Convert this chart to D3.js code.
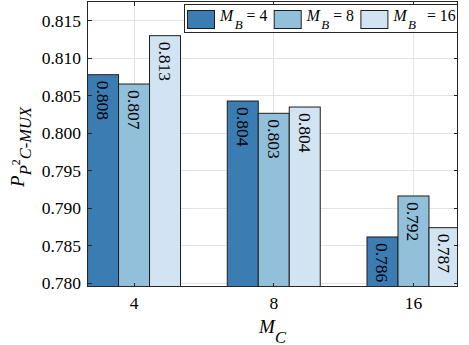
<!DOCTYPE html>
<html>
<head>
<meta charset="utf-8">
<script src="https://cdn.jsdelivr.net/npm/d3@7"></script>
<style>
  html, body { margin: 0; padding: 0; background: #fff; }
  svg { display: block; }
</style>
</head>
<body>
<svg id="chart" width="469" height="345" font-family="'Liberation Serif', 'Times New Roman', Times, 'DejaVu Serif', serif"></svg>
<script>
// Group positions along the M_C axis
const categories = ["4", "8", "16"];
// One series per M_B value
const seriesNames = ["4", "8", "16"];
const seriesValues = [
  [0.80783, 0.80432, 0.78618],  // M_B = 4
  [0.80659, 0.80268, 0.79165],  // M_B = 8
  [0.81304, 0.80352, 0.78742]   // M_B = 16
];
const seriesColors = ["#3b7cb3", "#92bfda", "#d2e3f1"];
const yTicks = [0.780, 0.785, 0.790, 0.795, 0.800, 0.805, 0.810, 0.815];

const W = 469, H = 345;
const plot = { left: 87.5, right: 457.5, top: 1.5, bottom: 286.5 };
const axisColor = "#262626";
const gridColor = "#e3e3e3";
const fmt = d3.format(".3f");

const svg = d3.select("#chart");
svg.append("rect").attr("width", W).attr("height", H).attr("fill", "#fff");

const x = d3.scaleLinear().domain([0.667, 3.315]).range([plot.left, plot.right]);
const y = d3.scaleLinear().domain([0.77957, 0.8176]).range([plot.bottom, plot.top]);
const barW = 0.2218; // in group-axis units

svg.append("defs").append("clipPath").attr("id", "clip")
  .append("rect")
  .attr("x", plot.left).attr("y", plot.top)
  .attr("width", plot.right - plot.left).attr("height", plot.bottom - plot.top);

// Grid
const grid = svg.append("g").attr("shape-rendering", "crispEdges");
grid.selectAll("line.h").data(yTicks).join("line")
  .attr("class", "h")
  .attr("x1", plot.left).attr("x2", plot.right)
  .attr("y1", d => y(d)).attr("y2", d => y(d))
  .attr("stroke", gridColor);
grid.selectAll("line.v").data(categories).join("line")
  .attr("class", "v")
  .attr("x1", (d, i) => x(i + 1)).attr("x2", (d, i) => x(i + 1))
  .attr("y1", plot.top).attr("y2", plot.bottom)
  .attr("stroke", gridColor);

// Bars
const bars = svg.append("g").attr("clip-path", "url(#clip)");
const flat = [];
seriesValues.forEach((vals, s) => vals.forEach((v, c) => flat.push({ s, c, v })));
bars.selectAll("rect").data(flat).join("rect")
  .attr("x", d => x(d.c + 1 + (d.s - 1.5) * barW))
  .attr("width", d => x(barW) - x(0))
  .attr("y", d => y(d.v))
  .attr("height", d => plot.bottom + 2 - y(d.v))
  .attr("fill", d => seriesColors[d.s])
  .attr("stroke", "#1e1e1e")
  .attr("stroke-width", 1);

// Value labels, reading downward from the top of each bar
bars.selectAll("text").data(flat).join("text")
  .attr("transform", d => `translate(${x(d.c + 1 + (d.s - 1) * barW)},${y(d.v) + 6}) rotate(90)`)
  .attr("text-anchor", "start")
  .attr("dominant-baseline", "central")
  .attr("font-size", "17.5px")
  .text(d => fmt(d.v));

// Axes box and inward ticks
const axes = svg.append("g").attr("shape-rendering", "crispEdges");
axes.append("rect")
  .attr("x", plot.left).attr("y", plot.top)
  .attr("width", plot.right - plot.left).attr("height", plot.bottom - plot.top)
  .attr("fill", "none").attr("stroke", axisColor);
const tl = 4;
yTicks.forEach(t => {
  axes.append("line").attr("x1", plot.left).attr("x2", plot.left + tl)
    .attr("y1", y(t)).attr("y2", y(t)).attr("stroke", axisColor);
  axes.append("line").attr("x1", plot.right - tl).attr("x2", plot.right)
    .attr("y1", y(t)).attr("y2", y(t)).attr("stroke", axisColor);
});
categories.forEach((c, i) => {
  axes.append("line").attr("x1", x(i + 1)).attr("x2", x(i + 1))
    .attr("y1", plot.bottom).attr("y2", plot.bottom - tl).attr("stroke", axisColor);
  axes.append("line").attr("x1", x(i + 1)).attr("x2", x(i + 1))
    .attr("y1", plot.top).attr("y2", plot.top + tl).attr("stroke", axisColor);
});

// Tick labels
svg.append("g").selectAll("text").data(yTicks).join("text")
  .attr("x", 81).attr("y", d => y(d))
  .attr("text-anchor", "end").attr("dominant-baseline", "central")
  .attr("font-size", "17.5px")
  .text(d => fmt(d));
svg.append("g").selectAll("text").data(categories).join("text")
  .attr("x", (d, i) => x(i + 1)).attr("y", 309)
  .attr("text-anchor", "middle")
  .attr("font-size", "17.5px")
  .text(d => d);

// X axis title: M_C
const xt = svg.append("text")
  .attr("x", (plot.left + plot.right) / 2).attr("y", 333)
  .attr("text-anchor", "middle").attr("font-size", "19px");
xt.append("tspan").attr("font-style", "italic").text("M");
xt.append("tspan").attr("font-style", "italic").attr("font-size", "16.5px")
  .attr("dy", 9.5).text("C");

// Y axis title: P_{P^2 C-MUX}
const yt = svg.append("text")
  .attr("transform", `translate(23.5,${(plot.top + plot.bottom) / 2 + 3}) rotate(-90)`)
  .attr("text-anchor", "middle").attr("font-size", "19px");
yt.append("tspan").attr("font-style", "italic").text("P");
yt.append("tspan").attr("font-style", "italic").attr("font-size", "16.5px")
  .attr("dy", 7).text("P");
yt.append("tspan").attr("font-size", "12px").attr("dy", -11).text("2");
yt.append("tspan").attr("font-style", "italic").attr("font-size", "16.5px")
  .attr("dy", 11).text("C-MUX");

// Legend
const lg = svg.append("g");
lg.append("rect")
  .attr("x", 184.5).attr("y", 4.5).attr("width", 272.5).attr("height", 28)
  .attr("fill", "#fff").attr("stroke", axisColor).attr("shape-rendering", "crispEdges");
seriesNames.forEach((name, i) => {
  const x0 = 187.5 + i * 86.7;
  lg.append("rect")
    .attr("x", x0).attr("y", 10.5).attr("width", 27).attr("height", 18)
    .attr("fill", seriesColors[i]).attr("stroke", "#1e1e1e");
  const t = lg.append("text")
    .attr("x", x0 + 32.5).attr("y", 20.7).attr("font-size", "15.75px");
  t.append("tspan").attr("font-style", "italic").text("M");
  t.append("tspan").attr("font-style", "italic").attr("font-size", "13px")
    .attr("dx", 1.5).attr("dy", 8.6).text("B");
  t.append("tspan").attr("dx", i === 2 ? 11 : 4).attr("dy", -8.6).text("= " + name);
});
</script>
</body>
</html>
